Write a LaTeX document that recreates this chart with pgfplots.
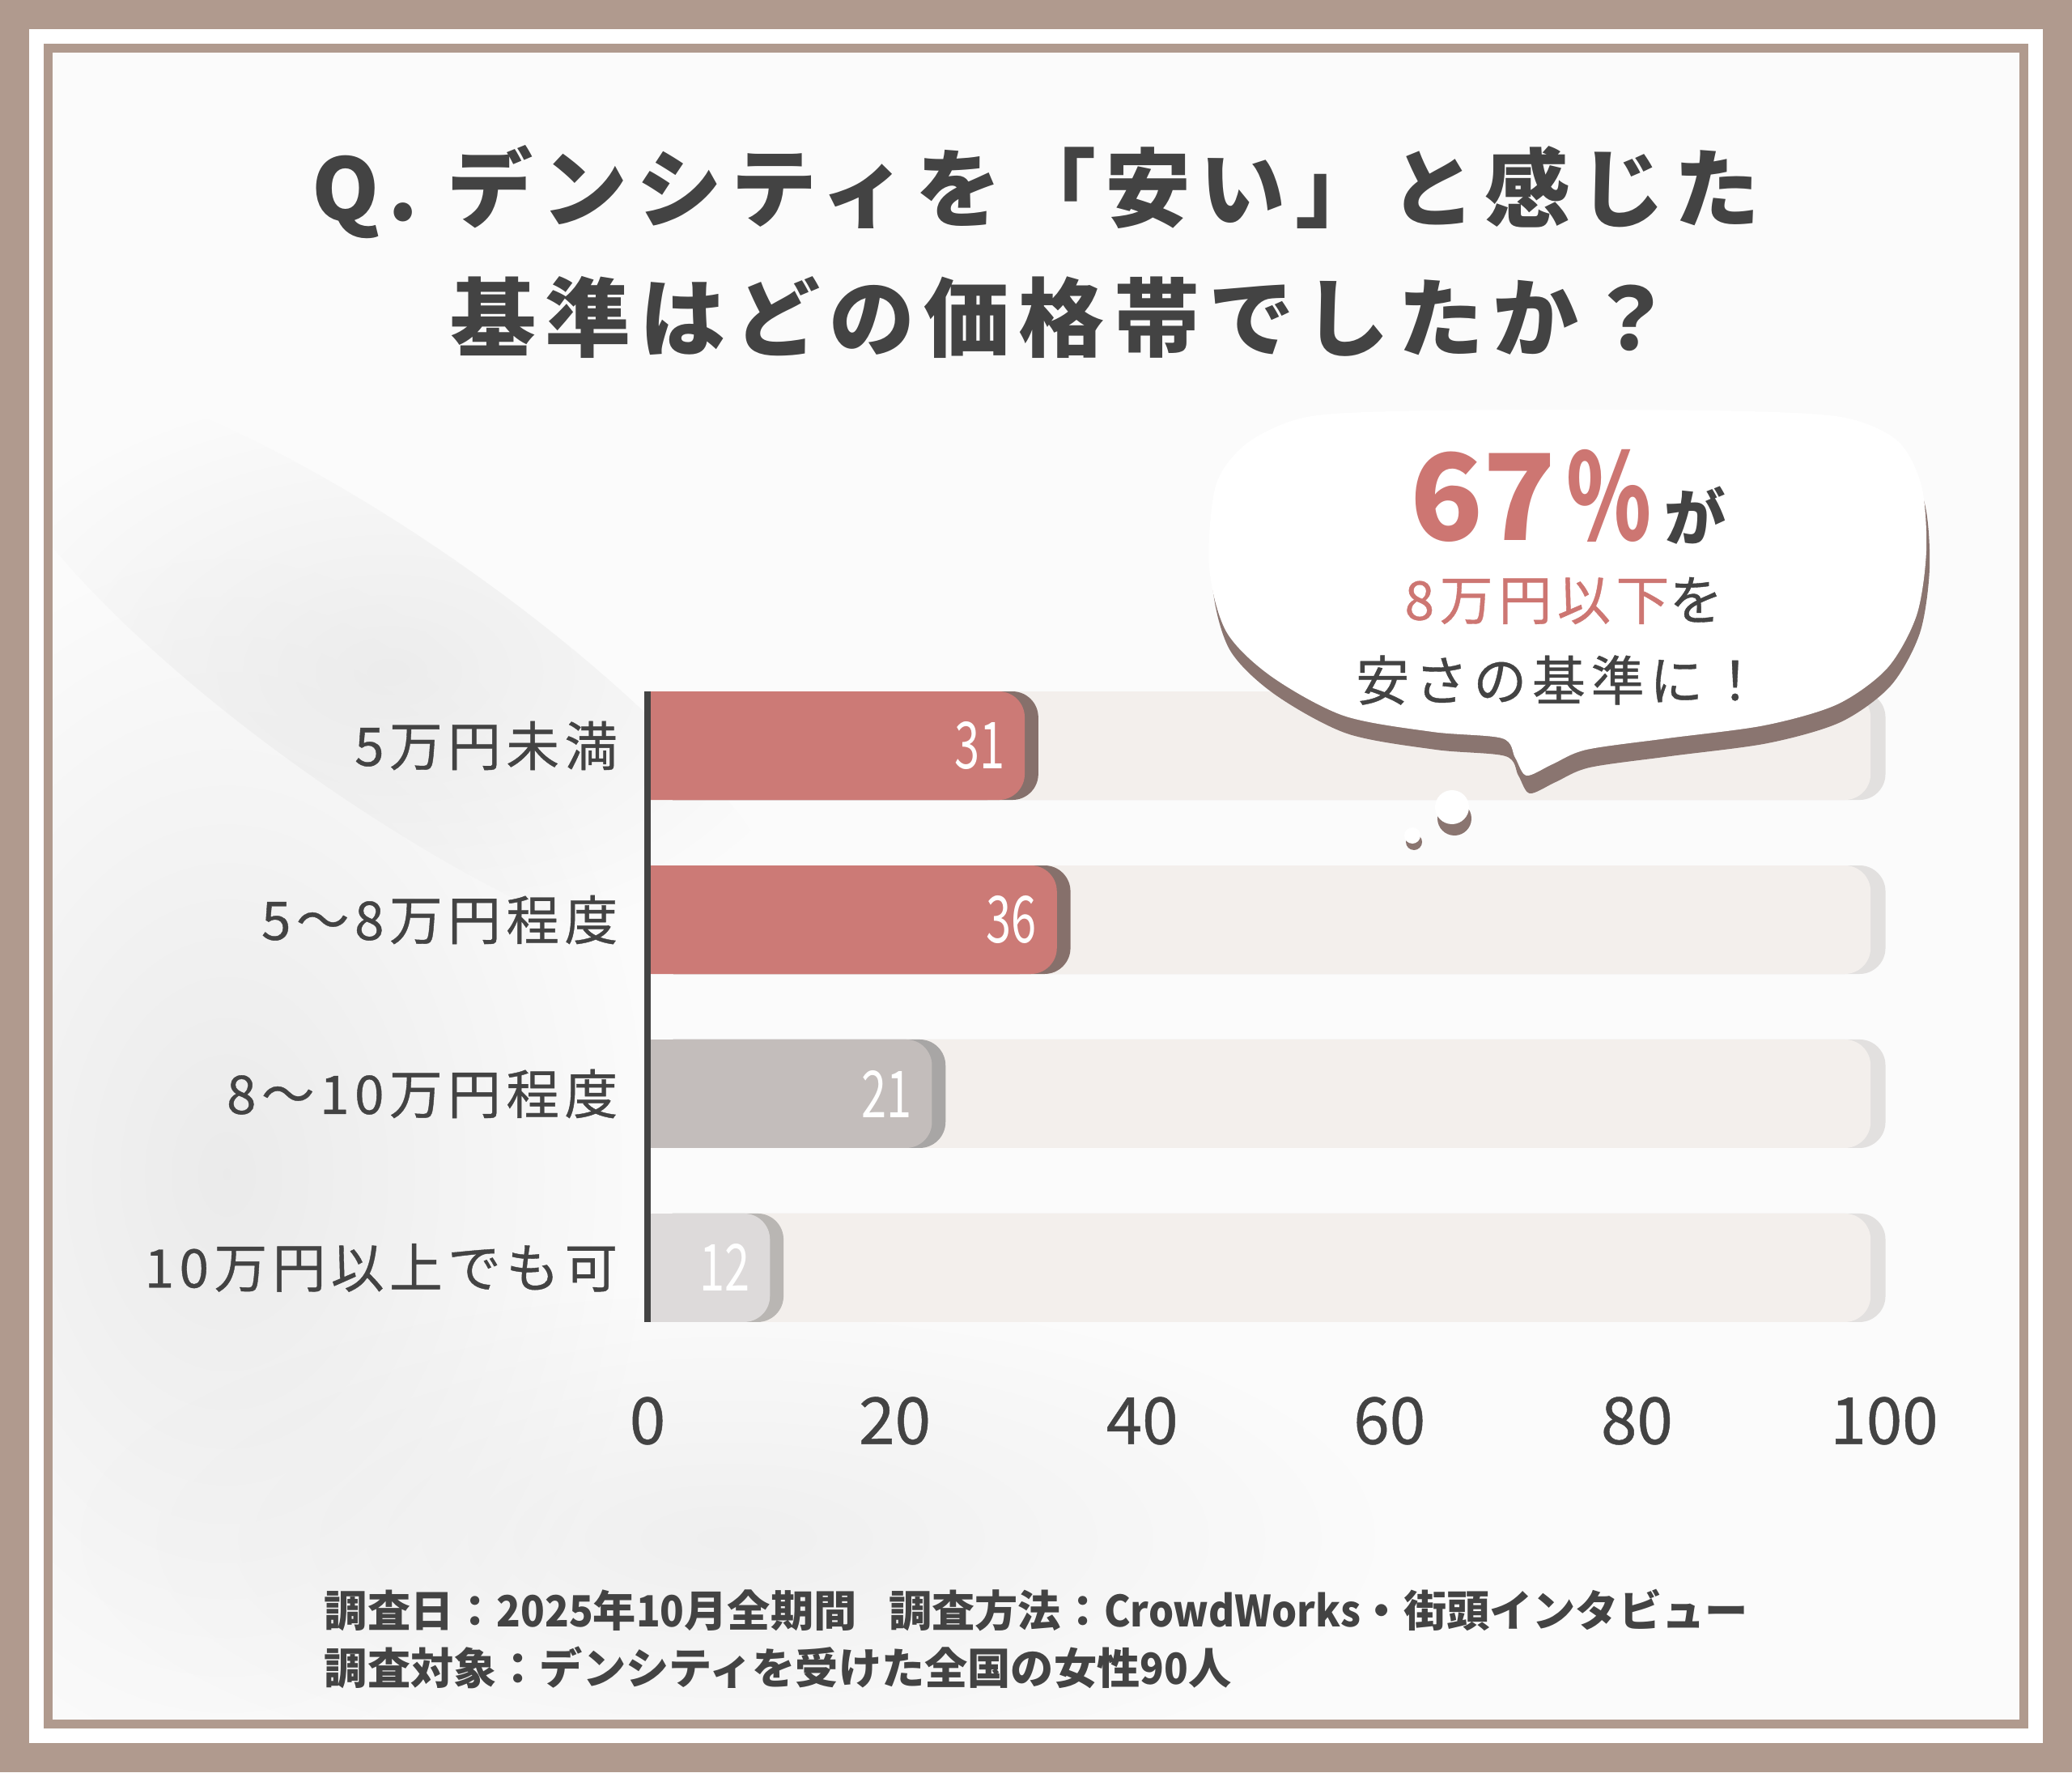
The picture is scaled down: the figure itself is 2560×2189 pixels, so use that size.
\documentclass[border=0pt]{standalone}
\usepackage{fontspec}
\usepackage{graphicx}
\usepackage{pgfplots}
\usepackage{pgfplotstable}
\usetikzlibrary{fadings}
\pgfplotsset{compat=1.18}
\setmainfont{Noto Sans CJK JP}
\newfontfamily\jpls{Noto Sans CJK JP}[LetterSpace=10.5]
\newfontfamily\jplab{Noto Sans CJK JP}[LetterSpace=10, FakeBold=0.6]
\newfontfamily\jpmed{Noto Sans CJK JP}[FakeBold=0.6]
\definecolor{framebrown}{HTML}{B09A8E}
\definecolor{bginner}{HTML}{FBFBFB}
\definecolor{shadegray}{HTML}{E4E4E4}
\definecolor{textdark}{HTML}{434343}
\definecolor{barred}{HTML}{CC7A76}
\definecolor{barredsh}{HTML}{86706B}
\definecolor{bargray}{HTML}{C3BDBB}
\definecolor{bargraysh}{HTML}{A8A6A5}
\definecolor{barlight}{HTML}{DDDADA}
\definecolor{barlightsh}{HTML}{B9B6B3}
\definecolor{barbg}{HTML}{F3EFEC}
\definecolor{barbgsh}{HTML}{E2E0DF}
\definecolor{bubsh}{HTML}{8A7570}
\definecolor{accent}{HTML}{CD7672}
\newcommand{\cond}[1]{\scalebox{0.92}[1]{#1}}
\tikzfading[name=softfade, inner color=transparent!0, outer color=transparent!100]

\pgfplotstableread{
y len lab
3 30.5 31
2 33.1 36
}\tabred
\pgfplotstableread{
y len lab
1 23.0 21
}\tabgray
\pgfplotstableread{
y len lab
0 9.9 12
}\tablight
\pgfplotstableread{
y len
0 98.9
1 98.9
2 98.9
3 98.9
}\tabbg

\begin{document}
\begin{tikzpicture}
% background and frame (pixel coordinates of the 2560x2189 image)
\begin{scope}[x=0.25pt,y=-0.25pt,yshift=547.25pt]
\fill[framebrown] (0,0) rectangle (2560,2189);
\fill[white] (36,36) rectangle (2524,2153);
\fill[framebrown] (54,54) rectangle (2506,2135);
\fill[bginner] (65,65) rectangle (2495,2124);
% faint background shadows
\begin{scope}
\clip (65,65) rectangle (2495,2124);
\fill[shadegray, path fading=softfade, fill opacity=0.7] (280,1450) ellipse (520 and 760);
\fill[shadegray, path fading=softfade, fill opacity=0.6, rotate around={-35:(480,830)}] (480,830) ellipse (600 and 160);
\fill[shadegray, path fading=softfade, fill opacity=0.5] (900,1900) ellipse (800 and 300);
\end{scope}
% title
\node[anchor=center, inner sep=0pt, text=textdark] at (1280,237)
  {\jpls\fontsize{26.5pt}{30pt}\selectfont\bfseries Q. デンシティを「安い」と感じた};
\node[anchor=center, inner sep=0pt, text=textdark] at (1312,392)
  {\jpls\fontsize{26.5pt}{30pt}\selectfont\bfseries 基準はどの価格帯でしたか？};
% footer
\node[anchor=west, inner sep=0pt, text=textdark] at (400,1989)
  {\fontsize{13.3pt}{16pt}\selectfont\bfseries 調査日：\cond{2025}年\cond{10}月全期間\hspace{0.75em}調査方法：\cond{CrowdWorks}・街頭インタビュー};
\node[anchor=west, inner sep=0pt, text=textdark] at (400,2060)
  {\fontsize{13.3pt}{16pt}\selectfont\bfseries 調査対象：デンシティを受けた全国の女性\cond{90}人};
\end{scope}

\begin{axis}[
  at={(200pt,139pt)}, anchor=south west,
  scale only axis, width=382pt, height=194.75pt,
  xmin=0, xmax=100, ymin=-0.312, ymax=3.312,
  xtick={0,20,40,60,80,100},
  ytick={0,1,2,3},
  yticklabels={10万円以上でも可,8〜10万円程度,5〜8万円程度,5万円未満},
  axis lines*=left,
  x axis line style={draw=none},
  y axis line style={draw=textdark, line width=2pt},
  major tick length=0pt,
  clip=false,
  axis on top,
  /pgf/number format/assume math mode=true,
  xticklabel style={font=\jpmed\fontsize{20pt}{22pt}\selectfont, text=textdark, anchor=center, yshift=-30.5pt},
  yticklabel style={font=\jplab\fontsize{16.4pt}{18pt}\selectfont, text=textdark, anchor=east, inner sep=0pt, xshift=-9pt},
  mybar/.style={xbar, bar width=33.5pt, bar shift=0pt, draw=none},
  rbar/.style={mybar, rounded corners=8pt},
  lab/.style={nodes near coords={\scalebox{0.7}[1]{\pgfmathprintnumber{\pgfplotspointmeta}}},
    point meta=explicit,
    every node near coord/.append style={anchor=east, inner sep=0pt, xshift=-6pt,
      text=white, font=\fontsize{20pt}{22pt}\selectfont}},
]
% background tracks
\addplot[rbar, fill=barbgsh] table[x expr=\thisrow{len}+1.2, y=y] {\tabbg};
\addplot[rbar, fill=barbg] table[x=len, y=y] {\tabbg};
% red bars
\addplot[rbar, fill=barredsh] table[x expr=\thisrow{len}+1.1, y=y] {\tabred};
\addplot[mybar, fill=barred] table[x expr=\thisrow{len}-3, y=y] {\tabred};
\addplot[rbar, fill=barred, lab] table[x=len, y=y, meta=lab] {\tabred};
% gray bar
\addplot[rbar, fill=bargraysh] table[x expr=\thisrow{len}+1.1, y=y] {\tabgray};
\addplot[mybar, fill=bargray] table[x expr=\thisrow{len}-3, y=y] {\tabgray};
\addplot[rbar, fill=bargray, lab] table[x=len, y=y, meta=lab] {\tabgray};
% light bar
\addplot[rbar, fill=barlightsh] table[x expr=\thisrow{len}+1.1, y=y] {\tablight};
\addplot[mybar, fill=barlight] table[x expr=\thisrow{len}-3, y=y] {\tablight};
\addplot[rbar, fill=barlight, lab] table[x=len, y=y, meta=lab] {\tablight};
\end{axis}

% speech bubble
\begin{scope}[x=0.25pt,y=-0.25pt,yshift=547.25pt]
\def\cloud{(1494,700) (1502,600) (1540,548) (1610,516) (1720,508) (1940,506) (2160,508) (2280,516) (2345,545) (2374,600) (2380,680) (2368,760) (2332,825) (2270,870) (2180,896) (2060,912) (1960,926) (1918,944) (1886,958) (1872,936) (1856,912) (1770,904) (1660,884) (1570,835) (1515,780)}
\begin{scope}[shift={(4,22)}]
\fill[bubsh] plot[smooth cycle, tension=0.5] coordinates {\cloud};
\end{scope}
\fill[white] plot[smooth cycle, tension=0.5] coordinates {\cloud};
\fill[bubsh] (1797,1011) circle (21);
\fill[white] (1794,997) circle (21);
\fill[bubsh] (1747,1040) circle (10);
\fill[white] (1745,1032) circle (10);
\node[anchor=base west, inner sep=0pt] at (1742,668)
  {\textcolor{accent}{\fontsize{37pt}{40pt}\selectfont\bfseries 67\hspace{3pt}\scalebox{0.72}[1]{\%}}\hspace{4pt}\textcolor{textdark}{\fontsize{19pt}{20pt}\selectfont\bfseries が}};
\node[anchor=center, inner sep=0pt, text=textdark] at (1932,742)
  {\jplab\fontsize{16.5pt}{18pt}\selectfont\textcolor{accent}{8万円以下}を};
\node[anchor=center, inner sep=0pt, text=textdark] at (1926,840)
  {\jplab\fontsize{16.5pt}{18pt}\selectfont 安さの基準に！};
\end{scope}
\end{tikzpicture}
\end{document}
